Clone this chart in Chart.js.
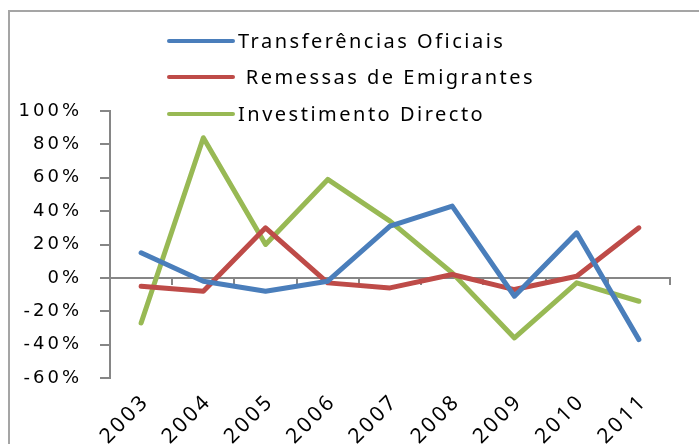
<!DOCTYPE html>
<html>
<head>
<meta charset="utf-8">
<script src="https://cdn.jsdelivr.net/npm/chart.js@4"></script>
<style>
  html, body { margin: 0; padding: 0; background: #fff; overflow: hidden; }
  #frame { position: absolute; left: 8px; top: 10px; width: 700px; height: 500px;
           border-left: 2px solid #a5a5a5; border-top: 2px solid #a5a5a5; }
  #wrap { position: absolute; left: 0; top: 0; width: 699px; height: 480px; }
</style>
</head>
<body>
<div id="frame"></div>
<div id="wrap"><canvas id="myChart" width="699" height="480"></canvas></div>
<script>
// anos
const years = ['2003', '2004', '2005', '2006', '2007', '2008', '2009', '2010', '2011'];
// valores em %
const transferencias = [15, -2, -8, -2, 31, 43, -11, 27, -37];
const remessas = [-5, -8, 30, -3, -6, 2, -7, 1, 30];
const investimento = [-27, 84, 20, 59, 34, 3, -36, -3, -14];
const seriesNames = ['Transferências Oficiais', ' Remessas de Emigrantes', 'Investimento Directo'];
const yTicks = [-60, -40, -20, 0, 20, 40, 60, 80, 100];

const gray = '#868686';

// legenda desenhada à mão, em coluna, por cima do gráfico
const legendPlugin = {
  id: 'colLegend',
  afterDraw(chart) {
    const ctx = chart.ctx;
    const rows = [41, 77, 114];
    chart.data.datasets.forEach((ds, i) => {
      ctx.save();
      ctx.strokeStyle = ds.borderColor;
      ctx.lineWidth = 4;
      ctx.lineCap = 'round';
      ctx.beginPath();
      ctx.moveTo(169, rows[i]);
      ctx.lineTo(233, rows[i]);
      ctx.stroke();
      ctx.letterSpacing = '2.5px';
      ctx.font = '20px "Noto Sans"';
      ctx.fillStyle = '#000';
      ctx.textBaseline = 'middle';
      ctx.fillText(ds.label, 238, rows[i] + 1);
      ctx.restore();
    });
  }
};

const spacingPlugin = {
  id: 'spacing',
  beforeDraw(chart) {
    chart.ctx.letterSpacing = '3px';
  }
};

const ctx = document.getElementById('myChart').getContext('2d');
const chart = new Chart(ctx, {
  type: 'line',
  data: {
    labels: years,
    datasets: [
      { label: seriesNames[0], data: transferencias, borderColor: '#4A7EBB' },
      { label: seriesNames[1], data: remessas, borderColor: '#BE4B48' },
      { label: seriesNames[2], data: investimento, borderColor: '#98B954' }
    ]
  },
  options: {
    responsive: false,
    animation: false,
    devicePixelRatio: 1,
    layout: { padding: { top: 111, right: 29, left: 0, bottom: 0 } },
    elements: {
      line: { borderWidth: 5, tension: 0, borderCapStyle: 'round', borderJoinStyle: 'round' },
      point: { radius: 0, hoverRadius: 0 }
    },
    plugins: { legend: { display: false }, tooltip: { enabled: false } },
    scales: {
      y: {
        min: -60, max: 100,
        afterBuildTicks: s => { s.ticks = yTicks.map(v => ({ value: v })); },
        afterFit: s => { s.width = 110; },
        grid: { display: true, drawOnChartArea: false, tickLength: 10, color: gray, lineWidth: 2 },
        border: { display: true, color: gray, width: 2 },
        ticks: {
          padding: 18,
          color: '#000',
          font: { family: 'DejaVu Sans', size: 18 },
          callback: v => v + '%'
        }
      },
      x: {
        position: 'bottom',
        offset: true,
        afterFit: s => { s.height = 102; },
        grid: { display: false },
        border: { display: false },
        ticks: {
          autoSkip: false,
          minRotation: 45, maxRotation: 45,
          padding: 3,
          labelOffset: 5,
          color: '#000',
          font: { family: 'Noto Sans', size: 21 }
        }
      },
      x2: {
        type: 'category',
        position: { y: 0 },
        offset: true,
        grid: { offset: true, drawOnChartArea: false, tickLength: 6, color: gray, lineWidth: 2 },
        border: { display: true, color: gray, width: 2 },
        ticks: { display: false }
      }
    }
  },
  plugins: [spacingPlugin, legendPlugin]
});
</script>
</body>
</html>
